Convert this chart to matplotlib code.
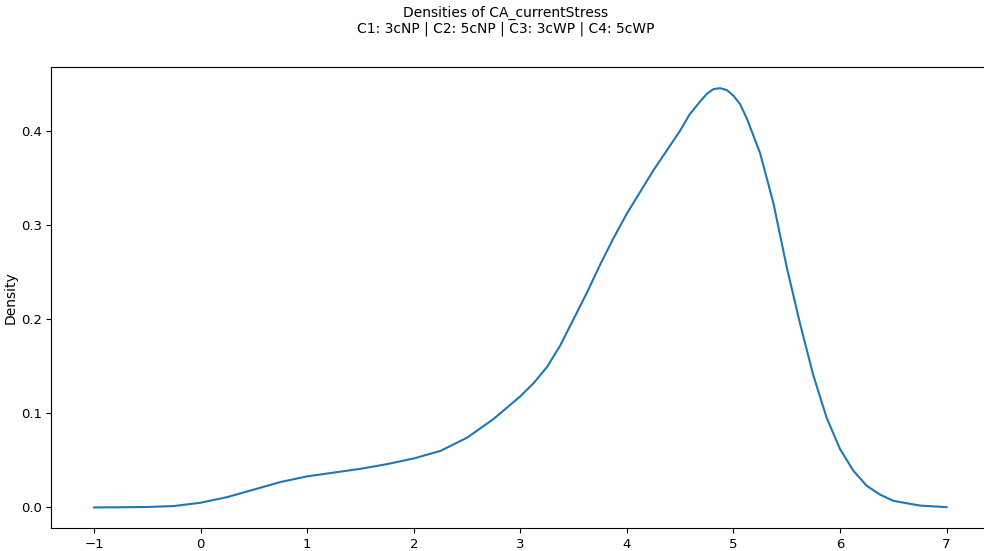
import numpy as np
import matplotlib
matplotlib.use("Agg")
import matplotlib.pyplot as plt

# density curve
x_vals = np.array([-1.0, -0.75, -0.5, -0.25, 0.0, 0.25, 0.5, 0.75, 1.0, 1.25, 1.5, 1.75,
                   2.0, 2.25, 2.5, 2.75, 3.0, 3.125, 3.25, 3.375, 3.5, 3.625, 3.75, 3.875,
                   4.0, 4.125, 4.25, 4.375, 4.5, 4.5875, 4.6875, 4.75, 4.8125, 4.875,
                   4.9375, 5.0, 5.0625, 5.125, 5.25, 5.375, 5.5, 5.625, 5.75, 5.875,
                   6.0, 6.125, 6.25, 6.375, 6.5, 6.75, 7.0])
density = np.array([0.0, 0.0002, 0.0005, 0.0015, 0.005, 0.011, 0.019, 0.027, 0.033, 0.037,
                    0.041, 0.046, 0.052, 0.060, 0.074, 0.094, 0.118, 0.132, 0.149, 0.172,
                    0.200, 0.228, 0.258, 0.286, 0.312, 0.335, 0.358, 0.379, 0.400, 0.417,
                    0.431, 0.439, 0.444, 0.445, 0.443, 0.437, 0.428, 0.413, 0.376, 0.323,
                    0.255, 0.195, 0.140, 0.095, 0.062, 0.039, 0.023, 0.0137, 0.007, 0.002,
                    0.0003])

title_lines = ["Densities of CA_currentStress", "C1: 3cNP | C2: 5cNP | C3: 3cWP | C4: 5cWP"]

fig = plt.figure(figsize=(9.84, 5.51), dpi=100)
ax = fig.add_axes([0.0523, 0.041, 0.953, 0.837])
ax.plot(x_vals, density, color="#1f77b4", linewidth=1.5)
ax.set_ylabel("Density", labelpad=2)
ax.set_xticks(np.arange(-1, 8, 1))
ax.set_yticks([0.0, 0.1, 0.2, 0.3, 0.4])
ax.tick_params(labelsize=9.5)
fig.suptitle("\n".join(title_lines), x=0.514, y=0.99, fontsize=10)

fig.savefig("out.png", dpi=100)
